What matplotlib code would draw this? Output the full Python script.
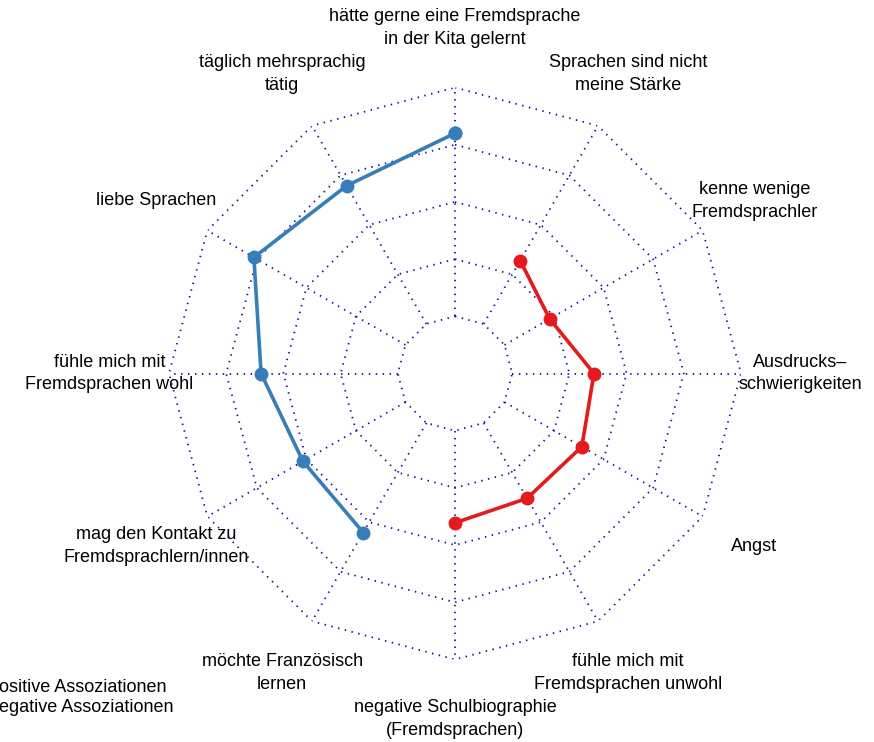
import numpy as np
import matplotlib
matplotlib.use("Agg")
import matplotlib.pyplot as plt
from matplotlib.lines import Line2D

plt.rcParams['font.family'] = ['Liberation Sans', 'DejaVu Sans']

categories = [
    "hätte gerne eine Fremdsprache\nin der Kita gelernt",
    "Sprachen sind nicht\nmeine Stärke",
    "kenne wenige\nFremdsprachler",
    "Ausdrucks–\nschwierigkeiten",
    "Angst",
    "fühle mich mit\nFremdsprachen unwohl",
    "negative Schulbiographie\n(Fremdsprachen)",
    "möchte Französisch\nlernen",
    "mag den Kontakt zu\nFremdsprachlern/innen",
    "fühle mich mit\nFremdsprachen wohl",
    "liebe Sprachen",
    "täglich mehrsprachig\ntätig",
]
nan = np.nan
positive = [4.20, nan, nan, nan, nan, nan, nan, 3.21, 3.07, 3.39, 4.06, 3.79]
negative = [nan, 2.28, 1.91, 2.43, 2.56, 2.52, 2.61, nan, nan, nan, nan, nan]
series_names = ["positive Assoziationen", "negative Assoziationen"]
ring_levels = [1, 2, 3, 4, 5]

blue = "#377EB8"
red = "#E41A1C"
gridc = "#12129a"

fig = plt.figure(figsize=(8.74, 7.42), dpi=100)
ax = fig.add_axes([169/874, 82.5/742, 572/874, 572/742], projection='polar')
ax.set_theta_zero_location('N')
ax.set_theta_direction(-1)
ax.set_ylim(0, 5)
ax.axis('off')

n = len(categories)
theta = np.arange(n) * 2 * np.pi / n
theta_c = np.append(theta, theta[0] + 2 * np.pi)

dot = dict(color=gridc, lw=1.3, linestyle=(0, (0.8, 3.05)), zorder=1)
for lv in ring_levels:
    ax.plot(theta_c, [lv] * (n + 1), **dot)
for t in theta:
    ax.plot([t, t], [ring_levels[0], ring_levels[-1]], **dot)

for vals, col in [(positive, blue), (negative, red)]:
    v = np.append(vals, vals[0])
    ax.plot(theta_c, v, color=col, lw=2.6, marker='o', markersize=9, zorder=3)

for t, lab in zip(theta, categories):
    ax.text(t, 6.04, lab, ha='center', va='center', fontsize=13, linespacing=1.45)

handles = [Line2D([], [], color=blue, lw=2.6, marker='o', markersize=9),
           Line2D([], [], color=red, lw=2.6, marker='o', markersize=9)]
fig.legend(handles, series_names, loc='center left',
           bbox_to_anchor=(-62/874, 44.5/742), frameon=False, fontsize=13,
           borderaxespad=0, borderpad=0, handlelength=2, handletextpad=0.8,
           labelspacing=0.2)

fig.savefig("out.png", dpi=100)
